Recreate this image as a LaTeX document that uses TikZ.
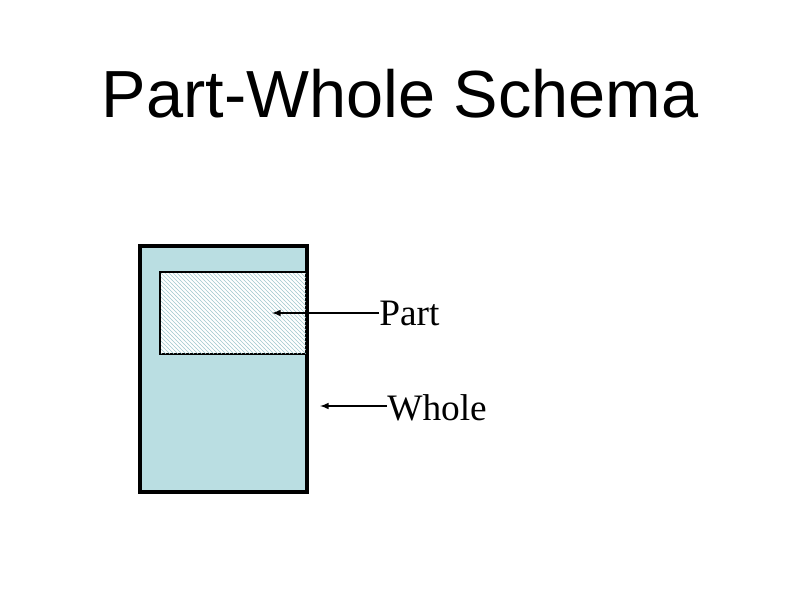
\documentclass[tikz,border=0pt]{standalone}
\usepackage{fontspec}
\setmainfont{Liberation Serif}
\newfontfamily\titlefont{Liberation Sans}
\usetikzlibrary{patterns}
\definecolor{wholefill}{RGB}{186,222,226}
\definecolor{hatch}{RGB}{160,200,205}
\tikzset{arr/.style={-latex,line width=1.2pt}, lbl/.style={anchor=base west,inner sep=0pt,font=\fontsize{28}{30}\selectfont}}
\begin{document}
\begin{tikzpicture}[x=0.75pt,y=-0.75pt]
\useasboundingbox (0,0) rectangle (800,600);
\node[font=\titlefont\fontsize{50}{56}\selectfont,anchor=base,inner sep=0pt] (title) at (400,117) {Part-Whole Schema};
\draw[line width=3.6pt,fill=wholefill] (140,246) rectangle (307,492);
\node[draw=black,line width=1pt,fill=white,minimum width=145*0.75pt,minimum height=81*0.75pt,inner sep=0pt,anchor=north west] (part) at (160,272) {};
\fill[pattern=north west lines,pattern color=hatch] (part.south west) rectangle (part.north east);
\draw[line width=1pt] (part.south west) rectangle (part.north east);
\coordinate (whole) at (320,406);
\coordinate (parttip) at (272,313);
\node[lbl] (plbl) at (379,325) {Part};
\node[lbl] (wlbl) at (387,420) {Whole};
\draw[arr] (plbl.west |- parttip) -- (parttip);
\draw[arr] (wlbl.west |- whole) -- (whole);
\end{tikzpicture}
\end{document}
